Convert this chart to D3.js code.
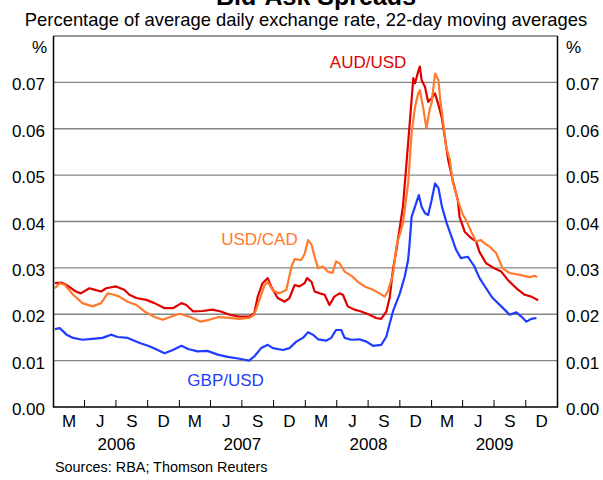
<!DOCTYPE html>
<html lang="en">
<head>
    <meta charset="UTF-8">
    <title>Bid-Ask Spreads</title>
    <script src="https://d3js.org/d3.v7.min.js"></script>
    <style>
        body { margin: 0; background: #fff; }
        text { font-family: Arial, "Liberation Sans", sans-serif; }
    </style>
</head>
<body>
<script>
    // series: [date, % of average daily exchange rate]
    var audUsd = [
        ["2006-01-05",0.0267],["2006-01-24",0.0268],["2006-02-08",0.0263],["2006-03-07",0.0249],
        ["2006-03-21",0.0245],["2006-04-15",0.0256],["2006-04-29",0.0253],["2006-05-19",0.0249],
        ["2006-06-03",0.0256],["2006-07-01",0.0260],["2006-07-25",0.0253],["2006-08-09",0.0242],
        ["2006-08-29",0.0235],["2006-09-27",0.0231],["2006-10-21",0.0224],["2006-11-19",0.0213],
        ["2006-12-13",0.0213],["2007-01-07",0.0224],["2007-01-21",0.0220],["2007-02-10",0.0206],
        ["2007-03-09",0.0207],["2007-04-07",0.0210],["2007-05-01",0.0206],["2007-05-26",0.0199],
        ["2007-06-24",0.0195],["2007-07-22",0.0195],["2007-08-06",0.0202],["2007-08-16",0.0238],
        ["2007-08-30",0.0267],["2007-09-14",0.0278],["2007-09-24",0.0260],["2007-10-13",0.0235],
        ["2007-11-02",0.0227],["2007-11-16",0.0235],["2007-12-01",0.0263],["2007-12-15",0.0260],
        ["2007-12-30",0.0267],["2008-01-06",0.0278],["2008-01-19",0.0270],["2008-01-28",0.0249],
        ["2008-02-12",0.0245],["2008-02-26",0.0242],["2008-03-11",0.0220],["2008-03-25",0.0238],
        ["2008-04-09",0.0245],["2008-04-19",0.0242],["2008-05-03",0.0217],["2008-05-22",0.0210],
        ["2008-06-11",0.0206],["2008-07-05",0.0199],["2008-07-24",0.0192],["2008-08-08",0.0190],
        ["2008-08-23",0.0206],["2008-09-02",0.0238],["2008-09-11",0.0296],["2008-09-21",0.0339],
        ["2008-10-10",0.0432],["2008-10-25",0.0569],["2008-11-04",0.0662],["2008-11-09",0.0709],
        ["2008-11-14",0.0698],["2008-11-23",0.0723],["2008-11-28",0.0734],["2008-12-03",0.0705],
        ["2008-12-13",0.0690],["2008-12-22",0.0658],["2009-01-01",0.0666],["2009-01-11",0.0676],
        ["2009-01-21",0.0651],["2009-01-31",0.0622],["2009-02-09",0.0579],["2009-02-18",0.0533],
        ["2009-03-03",0.0490],["2009-03-18",0.0446],["2009-03-23",0.0410],["2009-04-07",0.0378],
        ["2009-04-26",0.0364],["2009-05-10",0.0357],["2009-05-20",0.0334],["2009-06-08",0.0310],
        ["2009-07-02",0.0299],["2009-07-22",0.0292],["2009-08-10",0.0274],["2009-09-04",0.0256],
        ["2009-09-28",0.0242],["2009-10-17",0.0238],["2009-11-06",0.0230]
    ];
    var usdCad = [
        ["2006-01-05",0.0256],["2006-01-19",0.0267],["2006-02-03",0.0263],["2006-02-27",0.0242],
        ["2006-03-26",0.0224],["2006-04-24",0.0217],["2006-05-19",0.0224],["2006-06-07",0.0245],
        ["2006-06-26",0.0242],["2006-07-11",0.0238],["2006-08-04",0.0227],["2006-08-29",0.0220],
        ["2006-09-22",0.0206],["2006-10-21",0.0194],["2006-11-14",0.0188],["2006-12-09",0.0195],
        ["2007-01-02",0.0201],["2007-02-01",0.0194],["2007-03-04",0.0184],["2007-03-28",0.0188],
        ["2007-04-26",0.0194],["2007-05-26",0.0192],["2007-06-24",0.0190],["2007-07-22",0.0192],
        ["2007-08-06",0.0199],["2007-08-21",0.0231],["2007-09-05",0.0263],["2007-09-14",0.0270],
        ["2007-09-29",0.0251],["2007-10-18",0.0245],["2007-11-07",0.0253],["2007-11-22",0.0303],
        ["2007-12-01",0.0319],["2007-12-20",0.0317],["2007-12-30",0.0330],["2008-01-09",0.0360],
        ["2008-01-19",0.0350],["2008-01-28",0.0324],["2008-02-07",0.0299],["2008-02-21",0.0303],
        ["2008-03-06",0.0292],["2008-03-20",0.0289],["2008-03-30",0.0314],["2008-04-09",0.0310],
        ["2008-04-24",0.0292],["2008-05-17",0.0281],["2008-06-01",0.0270],["2008-06-21",0.0260],
        ["2008-07-15",0.0253],["2008-08-03",0.0245],["2008-08-18",0.0238],["2008-08-27",0.0249],
        ["2008-09-11",0.0285],["2008-09-21",0.0346],["2008-09-26",0.0360],["2008-10-10",0.0396],
        ["2008-10-25",0.0482],["2008-11-04",0.0590],["2008-11-14",0.0647],["2008-11-23",0.0676],
        ["2008-11-28",0.0683],["2008-12-08",0.0644],["2008-12-17",0.0601],["2008-12-27",0.0644],
        ["2009-01-01",0.0655],["2009-01-11",0.0719],["2009-01-21",0.0705],["2009-01-26",0.0662],
        ["2009-02-04",0.0612],["2009-02-12",0.0561],["2009-02-23",0.0533],["2009-03-03",0.0486],
        ["2009-03-18",0.0446],["2009-04-02",0.0414],["2009-04-11",0.0403],["2009-04-26",0.0378],
        ["2009-05-10",0.0357],["2009-05-24",0.0360],["2009-06-04",0.0353],["2009-06-18",0.0346],
        ["2009-07-07",0.0332],["2009-07-26",0.0299],["2009-08-15",0.0289],["2009-09-14",0.0285],
        ["2009-10-12",0.0280],["2009-10-27",0.0283],["2009-11-03",0.0280]
    ];
    var gbpUsd = [
        ["2006-01-05",0.0168],["2006-01-19",0.0170],["2006-02-08",0.0156],["2006-02-27",0.0149],
        ["2006-03-26",0.0145],["2006-04-24",0.0147],["2006-05-23",0.0149],["2006-06-17",0.0156],
        ["2006-07-06",0.0151],["2006-08-04",0.0149],["2006-09-08",0.0138],["2006-10-06",0.0131],
        ["2006-10-30",0.0123],["2006-11-19",0.0116],["2006-12-13",0.0123],["2007-01-07",0.0132],
        ["2007-01-26",0.0125],["2007-02-23",0.0120],["2007-03-23",0.0121],["2007-04-22",0.0113],
        ["2007-05-21",0.0108],["2007-06-24",0.0104],["2007-07-22",0.0100],["2007-08-06",0.0109],
        ["2007-08-26",0.0127],["2007-09-14",0.0134],["2007-09-29",0.0127],["2007-10-28",0.0123],
        ["2007-11-16",0.0127],["2007-12-06",0.0141],["2007-12-25",0.0149],["2008-01-09",0.0161],
        ["2008-01-23",0.0156],["2008-02-07",0.0146],["2008-03-01",0.0143],["2008-03-16",0.0149],
        ["2008-03-30",0.0166],["2008-04-14",0.0166],["2008-04-24",0.0149],["2008-05-13",0.0145],
        ["2008-06-06",0.0146],["2008-06-26",0.0141],["2008-07-15",0.0132],["2008-08-08",0.0134],
        ["2008-08-23",0.0152],["2008-09-02",0.0181],["2008-09-11",0.0206],["2008-10-01",0.0245],
        ["2008-10-15",0.0281],["2008-10-25",0.0317],["2008-10-29",0.0350],["2008-11-04",0.0410],
        ["2008-11-14",0.0432],["2008-11-25",0.0457],["2008-12-03",0.0432],["2008-12-13",0.0418],
        ["2008-12-22",0.0414],["2009-01-01",0.0446],["2009-01-11",0.0482],["2009-01-21",0.0472],
        ["2009-01-31",0.0432],["2009-02-14",0.0396],["2009-02-28",0.0367],["2009-03-13",0.0339],
        ["2009-03-27",0.0321],["2009-04-16",0.0324],["2009-05-05",0.0303],["2009-05-20",0.0278],
        ["2009-06-08",0.0256],["2009-06-27",0.0235],["2009-07-22",0.0217],["2009-08-15",0.0199],
        ["2009-09-04",0.0204],["2009-09-18",0.0195],["2009-10-03",0.0184],["2009-10-17",0.0190],
        ["2009-11-01",0.0192]
    ];

    var monthLabels = ["M", "J", "S", "D"];
    var years = [2006, 2007, 2008, 2009];
    var yTicks = [0, 0.01, 0.02, 0.03, 0.04, 0.05, 0.06, 0.07];

    var series = [
        {name: "AUD/USD", values: audUsd, color: "#e00000", lx: "2008-07-01", ly: 0.0732},
        {name: "USD/CAD", values: usdCad, color: "#ff7a2c", lx: "2007-08-21", ly: 0.0350},
        {name: "GBP/USD", values: gbpUsd, color: "#1f3cff", lx: "2007-05-15", ly: 0.0046}
    ];

    var W = 603, H = 480;
    var margin = {top: 36, right: 45.5, bottom: 73, left: 53.5};
    var parse = d3.timeParse("%Y-%m-%d");

    var svg = d3.select("body").append("svg")
        .attr("width", W)
        .attr("height", H);

    svg.append("rect").attr("width", W).attr("height", H).attr("fill", "#fff");

    var x = d3.scaleTime()
        .domain([new Date(2006, 0, 1), new Date(2010, 0, 1)])
        .range([margin.left, W - margin.right]);
    var y = d3.scaleLinear()
        .domain([0, 0.08])
        .range([H - margin.bottom, margin.top]);

    // titles (title sits partly above the top edge, as in the original)
    svg.append("text")
        .attr("x", 316).attr("y", 5)
        .attr("text-anchor", "middle")
        .style("font-size", "25px").style("font-weight", "bold")
        .text("Bid-Ask Spreads");
    svg.append("text")
        .attr("x", 306).attr("y", 26)
        .attr("text-anchor", "middle")
        .style("font-size", "18.4px")
        .text("Percentage of average daily exchange rate, 22-day moving averages");

    // gridlines
    svg.append("g").selectAll("line")
        .data(yTicks.slice(1))
        .enter().append("line")
        .attr("x1", x.range()[0]).attr("x2", x.range()[1])
        .attr("y1", function(d){ return y(d); })
        .attr("y2", function(d){ return y(d); })
        .attr("stroke", "#858585")
        .attr("stroke-width", 1.3);

    // y labels both sides
    var yl = svg.append("g").style("font-size", "17px");
    yl.selectAll(".yl").data(yTicks).enter().append("text")
        .attr("x", 45).attr("y", function(d){ return y(d) + 8; })
        .attr("text-anchor", "end")
        .text(d3.format(".2f"));
    yl.selectAll(".yr").data(yTicks).enter().append("text")
        .attr("x", 566).attr("y", function(d){ return y(d) + 8; })
        .text(d3.format(".2f"));
    yl.append("text").attr("x", 47).attr("y", 53).attr("text-anchor", "end").text("%");
    yl.append("text").attr("x", 566).attr("y", 53).text("%");

    // lines
    var line = d3.line()
        .x(function(d){ return x(parse(d[0])); })
        .y(function(d){ return y(d[1]); });

    svg.append("g").selectAll("path")
        .data(series)
        .enter().append("path")
        .attr("d", function(d){ return line(d.values); })
        .attr("fill", "none")
        .attr("stroke", function(d){ return d.color; })
        .attr("stroke-width", 2.2)
        .attr("stroke-linejoin", "round");

    svg.append("g").style("font-size", "17px").selectAll("text")
        .data(series)
        .enter().append("text")
        .attr("x", function(d){ return x(parse(d.lx)); })
        .attr("y", function(d){ return y(d.ly); })
        .attr("text-anchor", "middle")
        .attr("fill", function(d){ return d.color; })
        .text(function(d){ return d.name; });

    // frame
    var x0 = x.range()[0], x1 = x.range()[1], yb = y(0), yt = y(0.08);
    svg.append("line").attr("x1", x0).attr("x2", x1).attr("y1", yt).attr("y2", yt)
        .attr("stroke", "#777").attr("stroke-width", 1.5);
    svg.append("path")
        .attr("d", "M" + x0 + "," + yt + "V" + yb + "H" + x1 + "V" + yt)
        .attr("fill", "none").attr("stroke", "#000").attr("stroke-width", 1.5);

    // quarter ticks (inside) and labels
    var quarters = d3.timeMonth.every(3).range(new Date(2006, 0, 1), new Date(2010, 0, 1));
    svg.append("g").selectAll("line")
        .data(quarters.slice(1))
        .enter().append("line")
        .attr("x1", function(d){ return x(d); }).attr("x2", function(d){ return x(d); })
        .attr("y1", yb).attr("y2", yb - 7)
        .attr("stroke", "#000").attr("stroke-width", 1);

    svg.append("g").style("font-size", "17px").selectAll("text")
        .data(quarters)
        .enter().append("text")
        .attr("x", function(d){ return (x(d) + x(d3.timeMonth.offset(d, 3))) / 2; })
        .attr("y", 427)
        .attr("text-anchor", "middle")
        .text(function(d, i){ return monthLabels[i % 4]; });

    svg.append("g").style("font-size", "17px").selectAll("text")
        .data(years)
        .enter().append("text")
        .attr("x", function(d){ return (x(new Date(d, 0, 1)) + x(new Date(d + 1, 0, 1))) / 2; })
        .attr("y", 450)
        .attr("text-anchor", "middle")
        .text(function(d){ return d; });

    svg.append("text")
        .attr("x", 55).attr("y", 472)
        .style("font-size", "14.4px")
        .text("Sources: RBA; Thomson Reuters");
</script>
</body>
</html>
